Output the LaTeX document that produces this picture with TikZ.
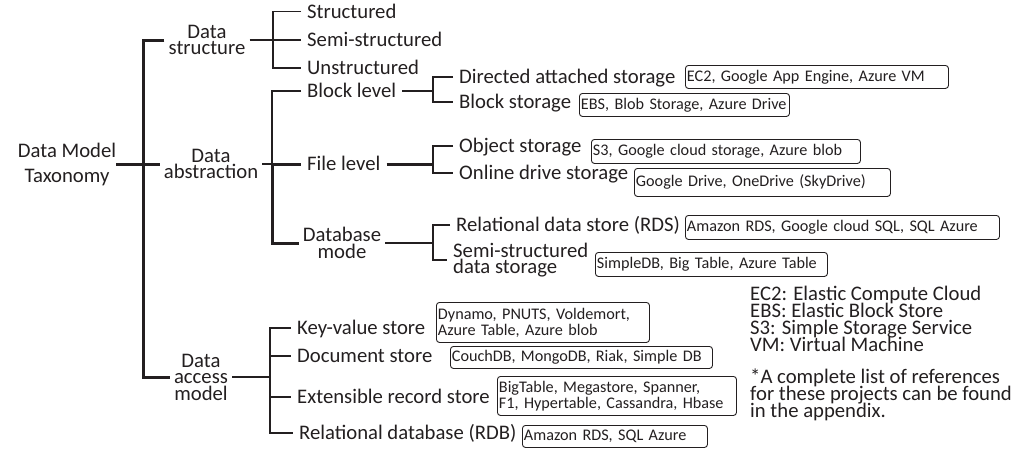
\documentclass[tikz,border=0pt]{standalone}
\usepackage{fontspec}
\setmainfont{Carlito}
\definecolor{ink}{RGB}{35,31,32}
\newcommand\lblfont{\fontsize{20.7}{16.5}\selectfont\lineskiplimit=-20pt}
\newcommand\legfont{\fontsize{20.7}{17}\selectfont\lineskiplimit=-20pt}
\newcommand\rootfont{\fontsize{20.7}{25}\selectfont}
\newcommand\boxfont{\fontsize{16.2}{16}\selectfont\lineskiplimit=-20pt}
\tikzset{
  thinline/.style={line width=1.7pt, draw=ink},
  thickline/.style={line width=3pt, draw=ink},
  leafm/.style={anchor=west, align=left, font=\lblfont, text=ink, inner xsep=6pt, inner ysep=0pt},
  leaf/.style={leafm, text height=16pt, text depth=3pt},
  group/.style={align=center, font=\lblfont, text=ink, inner xsep=4pt, inner ysep=0pt},
  refbox/.style={draw=ink, line width=0.9pt, rounded corners=3pt, anchor=north west,
    align=left, font=\boxfont, text=ink, inner xsep=1.5pt, inner ysep=0pt},
  legend/.style={anchor=north west, align=left, font=\legfont, text=ink, inner sep=0pt},
}
\begin{document}
\begin{tikzpicture}[x=1pt,y=-1pt]
    \useasboundingbox (0,0) rectangle (1027,459);

    \node[group, font=\rootfont, inner xsep=0pt] (root) at (67,164) {Data Model\\Taxonomy};
    \node[group] (ds) at (207,40) {Data\\structure};
    \node[group] (dab) at (211,164) {Data\\abstraction};
    \node[group] (dam) at (201,377) {Data\\access\\model};
    \node[group] (dbm) at (342,243) {Database\\mode};

    \foreach \nm/\x/\y/\txt in {st1/301/11.5/Structured, st2/301/40/Semi-structured,
        st3/301/68/Unstructured, bl/301/91/Block level, fl/301/164/File level,
        das/453/77/Directed attached storage, bs/453/102/Block storage,
        os/453/146/Object storage, ods/453/173/Online drive storage,
        rds/450/225/Relational data store (RDS),
        kv/291/328/Key-value store, doc/291/356/Document store,
        ers/291/397/Extensible record store, rdb/293/433/Relational database (RDB)}
        {\node[leaf] (\nm) at (\x,\y) {\txt};}
    \node[leafm] (ssd) at (447,260) {Semi-structured\\data storage};

    \foreach \nm/\x/\y/\w/\h/\txt in {bxa/685/65/260/23/{\mbox{EC2, Google App Engine, Azure VM}},
        bxb/579/93/207/23/{\mbox{EBS, Blob Storage, Azure Drive}},
        bxc/591/139/266/24/{\mbox{S3, Google cloud storage, Azure blob}},
        bxd/634/168/253/28/{\mbox{Google Drive, OneDrive (SkyDrive)}},
        bxe/685/215/311/24/{\mbox{Amazon RDS, Google cloud SQL, SQL Azure}},
        bxf/595/252/229/24/{\mbox{SimpleDB, Big Table, Azure Table}},
        bxg/436/302/210/40/{\mbox{Dynamo, PNUTS, Voldemort,}\\\mbox{Azure Table, Azure blob}},
        bxh/450/346/259/22/{\mbox{CouchDB, MongoDB, Riak, Simple DB}},
        bxi/497/376/236/39/{\mbox{BigTable, Megastore, Spanner,}\\\mbox{F1, Hypertable, Cassandra, Hbase}},
        bxj/522/425/182/22/{\mbox{Amazon RDS, SQL Azure}}}
        {\node[refbox, text width=\w pt, minimum height=\h pt] (\nm) at (\x,\y) {\txt};}

    \node[legend] (abbr) at (750,286) {EC2: Elastic Compute Cloud\\EBS: Elastic Block Store\\S3: Simple Storage Service\\VM: Virtual Machine};
    \node[legend] (note) at (750,369) {*A complete list of references\\for these projects can be found\\in the appendix.};

    \coordinate (rbus) at (143,164);
    \coordinate (sbus) at (273,40);
    \coordinate (abus) at (272,164);
    \coordinate (bbus) at (433,91);
    \coordinate (fbus) at (433,164);
    \coordinate (dbus) at (433,243);
    \coordinate (mbus) at (270,377);

    \draw[thickline] (root.east) -- (dab.west);
    \draw[thickline] (ds.west) -| (rbus) |- (dam.west);

    \draw[thinline] (ds.east) -- (st2.west);
    \draw[thinline] (st1.west) -| (sbus) |- (st3.west);

    \draw[thinline] (dab.east) -- (abus);
    \draw[thickline] (abus) -- (fl.west);
    \draw[thinline] (bl.west) -| (abus);
    \draw[thickline] (abus) |- (dbm.west);

    \draw[thinline] (bl.east) -- (bbus);
    \draw[thinline] (das.west) -| (bbus) |- (bs.west);
    \draw[thickline] (fl.east) -- (fbus);
    \draw[thinline] (os.west) -| (fbus) |- (ods.west);
    \draw[thinline] (dbm.east) -- (dbus);
    \draw[thinline] (rds.west) -| (dbus) |- (ssd.west);

    \draw[thinline] (dam.east) -- (mbus);
    \draw[thinline] (kv.west) -| (mbus) |- (rdb.west);
    \draw[thinline] (mbus |- doc.west) -- (doc.west);
    \draw[thinline] (mbus |- ers.west) -- (ers.west);
\end{tikzpicture}
\end{document}
